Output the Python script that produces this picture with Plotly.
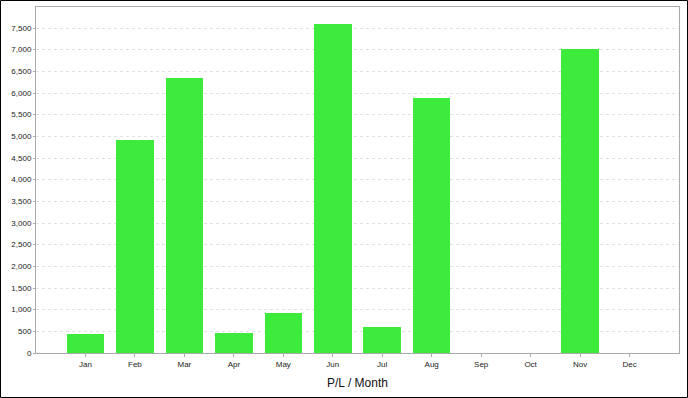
import plotly.graph_objects as go

months = ["Jan", "Feb", "Mar", "Apr", "May", "Jun", "Jul", "Aug", "Sep", "Oct", "Nov", "Dec"]
pl_values = [440, 4920, 6350, 470, 930, 7600, 600, 5890, 0, 0, 7020, 0]
y_tick_vals = list(range(0, 8000, 500))
y_tick_text = [f"{v:,}" for v in y_tick_vals]

W, H = 688, 398
ML, MR, MT, MB = 36, 9, 7, 45
PW, PH = W - ML - MR, H - MT - MB

fig = go.Figure(go.Bar(
    x=list(range(len(months))), y=pl_values,
    marker=dict(color="#3DEB3D", line=dict(width=0)),
    width=0.76,
))

fig.update_layout(
    width=W, height=H,
    margin=dict(l=ML, r=MR, t=MT, b=MB),
    paper_bgcolor="white", plot_bgcolor="white",
    font=dict(family="Liberation Sans, Arial, sans-serif", size=8, color="#222"),
    showlegend=False,
    bargap=0,
)
fig.update_xaxes(
    range=[-1, 12], tickmode="array",
    tickvals=list(range(len(months))), ticktext=months,
    showline=True, linecolor="#AAAAAA", linewidth=1, mirror=True,
    ticks="outside", ticklen=3, tickcolor="#AAAAAA",
    showgrid=False, zeroline=False,
    title=dict(text="P/L / Month", font=dict(size=12, color="#111"), standoff=11),
)
fig.update_yaxes(
    range=[0, 7985], tickmode="array", tickvals=y_tick_vals, ticktext=y_tick_text,
    showline=True, linecolor="#AAAAAA", linewidth=1, mirror=True,
    ticks="outside", ticklen=2, tickcolor="#AAAAAA",
    showgrid=True, gridcolor="#E2E2E2", griddash="3px,3px", gridwidth=1,
    zeroline=False,
)

fig.add_shape(
    type="rect", xref="paper", yref="paper",
    x0=(0.5 - ML) / PW, x1=(W - 0.5 - ML) / PW,
    y0=(MT + PH - (H - 0.5)) / PH, y1=(MT + PH - 0.5) / PH,
    line=dict(color="black", width=1), fillcolor="rgba(0,0,0,0)", layer="above",
)

fig.write_html(
    "out.html",
    config={"displayModeBar": False},
    post_script="document.body.style.margin='0';document.body.style.overflow='hidden';",
)
